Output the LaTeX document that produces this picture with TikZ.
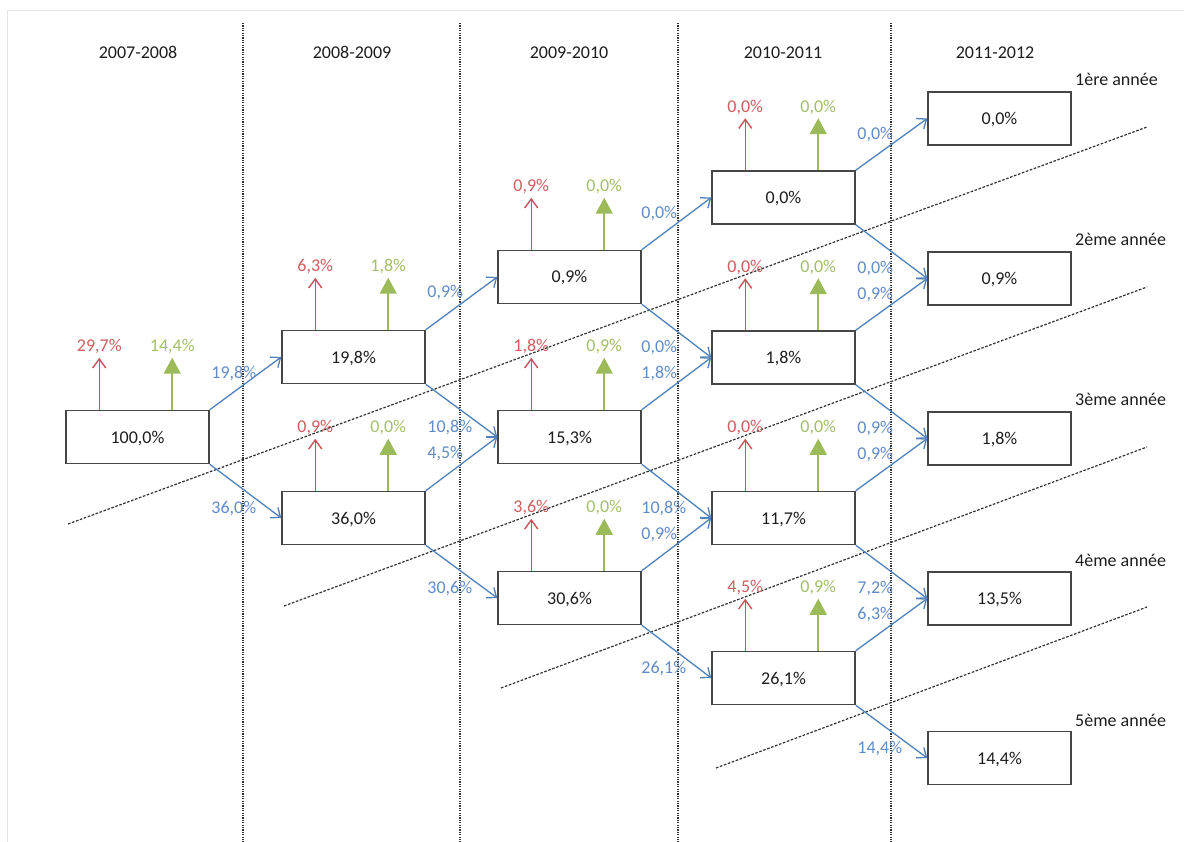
\documentclass[tikz,border=0pt]{standalone}
\usepackage{fontspec}
\setmainfont{Carlito}
\usetikzlibrary{arrows.meta,calc}
\definecolor{rd}{RGB}{200,85,85}
\definecolor{rdtext}{RGB}{205,95,95}
\definecolor{gn}{RGB}{155,187,89}
\definecolor{gntext}{RGB}{163,192,104}
\definecolor{bl}{RGB}{79,129,189}
\definecolor{bltext}{RGB}{98,140,200}
\definecolor{boxline}{RGB}{70,70,70}
\definecolor{txt}{RGB}{30,30,30}
\definecolor{sepgray}{RGB}{50,50,50}
\definecolor{framegray}{RGB}{228,228,228}
\tikzset{
  lbl/.style={font=\fontsize{18}{20}\selectfont, inner sep=0pt, text height=12pt, text depth=0pt},
  box/.style={lbl, draw=boxline, line width=1.5pt, fill=white, minimum width=143pt, minimum height=53pt, text=txt},
  hdr/.style={lbl, text=txt},
  yearlab/.style={lbl, text=txt, anchor=west},
  flow/.style={draw=bl, line width=1.3pt, -{Straight Barb[length=8pt,width=13pt,line width=1.3pt]}},
  flowlab/.style={lbl, text=bltext, anchor=west},
  lossarr/.style={draw=rd, line width=1.4pt, -{Straight Barb[length=9pt,width=13pt,line width=1.4pt]}},
  losslab/.style={lbl, text=rdtext},
  gainarr/.style={draw=gn, line width=1.7pt, -{Triangle[length=16pt,width=17pt]}},
  gainlab/.style={lbl, text=gntext},
  colsep/.style={draw=sepgray, line width=1.4pt, dash pattern=on 1.3pt off 1.1pt},
  diagsep/.style={draw=sepgray, line width=1.2pt, dash pattern=on 2.6pt off 1.6pt}
}
\newcommand{\updown}[3]{%
  \draw[lossarr] ([xshift=34pt]#1.north west) -- ++(0,-52) node[losslab, anchor=center, yshift=12pt] {#2};
  \draw[gainarr] ([xshift=107pt]#1.north west) -- ++(0,-52) node[gainlab, anchor=center, yshift=12pt] {#3};
}
\begin{document}
\begin{tikzpicture}[x=1pt,y=-1pt]
\fill[white] (0,0) rectangle (1184,842);
\useasboundingbox (0,0) rectangle (1184,842);
\draw[framegray, line width=1pt] (7,842) -- (7,11) -- (1184,11);

% column separators
\foreach \x in {243,460,678,891} \draw[colsep] (\x,23) -- (\x,842);

% diagonal separators
\draw[diagsep] (68,524) -- (1147,127);
\draw[diagsep] (284,606) -- (1147,287);
\draw[diagsep] (501,688) -- (1147,447);
\draw[diagsep] (716,768) -- (1147,607);

% headers
\node[hdr] (h1) at (138,53) {2007-2008};
\node[hdr] (h2) at (352,53) {2008-2009};
\node[hdr] (h3) at (569,53) {2009-2010};
\node[hdr] (h4) at (783,53) {2010-2011};
\node[hdr] (h5) at (995,53) {2011-2012};

% year labels
\node[yearlab] (y1) at (1075,80) {1ère année};
\node[yearlab] (y2) at (1075,240) {2ème année};
\node[yearlab] (y3) at (1075,400) {3ème année};
\node[yearlab] (y4) at (1075,560) {4ème année};
\node[yearlab] (y5) at (1075,720) {5ème année};

% boxes
\node[box] (b1) at (137.5,437) {100,0\%};
\node[box] (b2a) at (353.5,357) {19,8\%};
\node[box] (b2b) at (353.5,518) {36,0\%};
\node[box] (b3a) at (569.5,277) {0,9\%};
\node[box] (b3b) at (569.5,437) {15,3\%};
\node[box] (b3c) at (569.5,598) {30,6\%};
\node[box] (b4a) at (783.5,197.5) {0,0\%};
\node[box] (b4b) at (783.5,357.5) {1,8\%};
\node[box] (b4c) at (783.5,518) {11,7\%};
\node[box] (b4d) at (783.5,678) {26,1\%};
\node[box] (b5a) at (999.5,118.5) {0,0\%};
\node[box] (b5b) at (999.5,278.5) {0,9\%};
\node[box] (b5c) at (999.5,438.5) {1,8\%};
\node[box] (b5d) at (999.5,598.5) {13,5\%};
\node[box] (b5e) at (999.5,758) {14,4\%};

% losses / gains
\updown{b1}{29,7\%}{14,4\%}
\updown{b2a}{6,3\%}{1,8\%}
\updown{b2b}{0,9\%}{0,0\%}
\updown{b3a}{0,9\%}{0,0\%}
\updown{b3b}{1,8\%}{0,9\%}
\updown{b3c}{3,6\%}{0,0\%}
\updown{b4a}{0,0\%}{0,0\%}
\updown{b4b}{0,0\%}{0,0\%}
\updown{b4c}{0,0\%}{0,0\%}
\updown{b4d}{4,5\%}{0,9\%}

% flows
\draw[flow] (b1.north east) -- (b2a.west);
\draw[flow] (b1.south east) -- (b2b.west);
\node[flowlab] at ([shift={(-70,15)}]b2a.west) {19,8\%};
\node[flowlab] at ([shift={(-70,-11)}]b2b.west) {36,0\%};

\draw[flow] (b2a.north east) -- (b3a.west);
\draw[flow] (b2a.south east) -- (b3b.west);
\draw[flow] (b2b.north east) -- (b3b.west);
\draw[flow] (b2b.south east) -- (b3c.west);
\node[flowlab] at ([shift={(-70,15)}]b3a.west) {0,9\%};
\node[flowlab] at ([shift={(-70,-11)}]b3b.west) {10,8\%};
\node[flowlab] at ([shift={(-70,15)}]b3b.west) {4,5\%};
\node[flowlab] at ([shift={(-70,-11)}]b3c.west) {30,6\%};

\draw[flow] (b3a.north east) -- (b4a.west);
\draw[flow] (b3a.south east) -- (b4b.west);
\draw[flow] (b3b.north east) -- (b4b.west);
\draw[flow] (b3b.south east) -- (b4c.west);
\draw[flow] (b3c.north east) -- (b4c.west);
\draw[flow] (b3c.south east) -- (b4d.west);
\node[flowlab] at ([shift={(-70,15)}]b4a.west) {0,0\%};
\node[flowlab] at ([shift={(-70,-11)}]b4b.west) {0,0\%};
\node[flowlab] at ([shift={(-70,15)}]b4b.west) {1,8\%};
\node[flowlab] at ([shift={(-70,-11)}]b4c.west) {10,8\%};
\node[flowlab] at ([shift={(-70,15)}]b4c.west) {0,9\%};
\node[flowlab] at ([shift={(-70,-11)}]b4d.west) {26,1\%};

\draw[flow] (b4a.north east) -- (b5a.west);
\draw[flow] (b4a.south east) -- (b5b.west);
\draw[flow] (b4b.north east) -- (b5b.west);
\draw[flow] (b4b.south east) -- (b5c.west);
\draw[flow] (b4c.north east) -- (b5c.west);
\draw[flow] (b4c.south east) -- (b5d.west);
\draw[flow] (b4d.north east) -- (b5d.west);
\draw[flow] (b4d.south east) -- (b5e.west);
\node[flowlab] at ([shift={(-70,15)}]b5a.west) {0,0\%};
\node[flowlab] at ([shift={(-70,-11)}]b5b.west) {0,0\%};
\node[flowlab] at ([shift={(-70,15)}]b5b.west) {0,9\%};
\node[flowlab] at ([shift={(-70,-11)}]b5c.west) {0,9\%};
\node[flowlab] at ([shift={(-70,15)}]b5c.west) {0,9\%};
\node[flowlab] at ([shift={(-70,-11)}]b5d.west) {7,2\%};
\node[flowlab] at ([shift={(-70,15)}]b5d.west) {6,3\%};
\node[flowlab] at ([shift={(-70,-11)}]b5e.west) {14,4\%};
\end{tikzpicture}
\end{document}
